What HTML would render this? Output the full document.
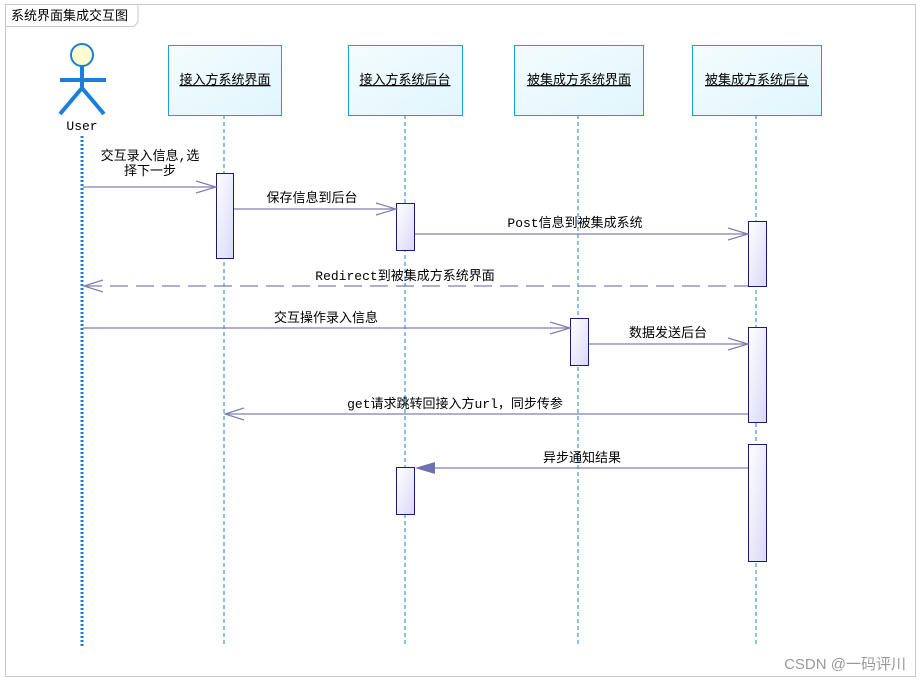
<!DOCTYPE html>
<html><head><meta charset="utf-8"><style>
html,body{margin:0;padding:0;background:#fff;width:920px;height:682px;overflow:hidden}
text{font-family:"Liberation Mono","Noto Sans CJK SC",monospace;font-size:13px;fill:#000}
</style></head><body>
<svg width="920" height="682" xmlns="http://www.w3.org/2000/svg">
<defs>
<linearGradient id="g" x1="0" y1="0" x2="1" y2="1"><stop offset="0" stop-color="#ffffff"/><stop offset="1" stop-color="#d8d8fa"/></linearGradient>
<linearGradient id="h" x1="0" y1="0" x2="1" y2="1"><stop offset="0" stop-color="#f4fcff"/><stop offset="1" stop-color="#e0f6fc"/></linearGradient>
</defs>
<rect x="5.5" y="4.5" width="910" height="672" fill="#fff" stroke="#c8c8c8"/>
<path d="M5.5 26.5 H134 L138 22 V4.5" fill="none" stroke="#c8c8c8"/>
<text x="11" y="20" style="font-family:'Liberation Sans','Noto Sans CJK SC',sans-serif;font-size:13px">系统界面集成交互图</text>
<!-- actor -->
<circle cx="82" cy="55" r="11" fill="#fdfbd0" stroke="#1a7fd8" stroke-width="2"/>
<g stroke="#1a7fd8" stroke-width="4" fill="none">
<line x1="82" y1="66" x2="82" y2="90"/><line x1="60" y1="80" x2="106" y2="80"/>
<line x1="82" y1="88" x2="60" y2="114"/><line x1="82" y1="88" x2="104" y2="114"/>
</g>
<text x="82" y="130" text-anchor="middle">User</text>
<line x1="82" y1="136" x2="82" y2="646" stroke="#1a7fd8" stroke-width="3" stroke-dasharray="2,2"/>
<!-- lifelines -->
<g stroke="#1a7fd8" stroke-width="1" stroke-dasharray="4,3">
<line x1="224" y1="115" x2="224" y2="646"/><line x1="405" y1="115" x2="405" y2="646"/>
<line x1="578" y1="115" x2="578" y2="646"/><line x1="756" y1="115" x2="756" y2="646"/>
</g>
<g fill="url(#h)" stroke="#1a9fd8">
<rect x="168.5" y="45.5" width="113" height="70"/><rect x="348.5" y="45.5" width="114" height="70"/>
<rect x="514.5" y="45.5" width="129" height="70"/><rect x="692.5" y="45.5" width="129" height="70"/>
</g>
<g text-anchor="middle" text-decoration="underline">
<text x="225" y="84">接入方系统界面</text><text x="405" y="84">接入方系统后台</text>
<text x="579" y="84">被集成方系统界面</text><text x="757" y="84">被集成方系统后台</text>
</g>
<!-- activations -->
<g fill="url(#g)" stroke="#1a1a70">
<rect x="216.5" y="173.5" width="17" height="85"/>
<rect x="396.5" y="203.5" width="18" height="47"/>
<rect x="748.5" y="221.5" width="18" height="65"/>
<rect x="570.5" y="318.5" width="18" height="47"/>
<rect x="748.5" y="327.5" width="18" height="95"/>
<rect x="748.5" y="444.5" width="18" height="117"/>
<rect x="396.5" y="467.5" width="18" height="47"/>
</g>
<!-- messages -->
<g stroke="#8080b0" stroke-width="1.2" fill="none">
<line x1="83" y1="187" x2="216" y2="187"/><path d="M196 181 L216 187 L196 193"/>
<line x1="234" y1="209" x2="396" y2="209"/><path d="M376 203 L396 209 L376 215"/>
<line x1="415" y1="234" x2="748" y2="234"/><path d="M728 228 L748 234 L728 240"/>
<line x1="84" y1="286" x2="748" y2="286" stroke-dasharray="18,8"/><path d="M103 280 L84 286 L103 292"/>
<line x1="83" y1="328" x2="570" y2="328"/><path d="M550 322 L570 328 L550 334"/>
<line x1="589" y1="344" x2="748" y2="344"/><path d="M728 338 L748 344 L728 350"/>
<line x1="225" y1="414" x2="748" y2="414"/><path d="M244 408 L225 414 L244 420"/>
<line x1="430" y1="468" x2="748" y2="468"/>
</g>
<path d="M415 468 L435 462 L435 474 Z" fill="#7070b0"/>
<g text-anchor="middle">
<text x="150" y="160">交互录入信息,选</text><text x="150" y="175">择下一步</text>
<text x="312" y="202">保存信息到后台</text>
<text x="575" y="227">Post信息到被集成系统</text>
<text x="405" y="280">Redirect到被集成方系统界面</text>
<text x="326" y="322">交互操作录入信息</text>
<text x="668" y="337">数据发送后台</text>
<text x="455" y="408">get请求跳转回接入方url，同步传参</text>
<text x="582" y="462">异步通知结果</text>
</g>
<text x="906" y="669" text-anchor="end" style="font-family:'Liberation Sans','Noto Sans CJK SC',sans-serif;font-size:15px;fill:#999">CSDN @一码评川</text>
</svg>
</body></html>
